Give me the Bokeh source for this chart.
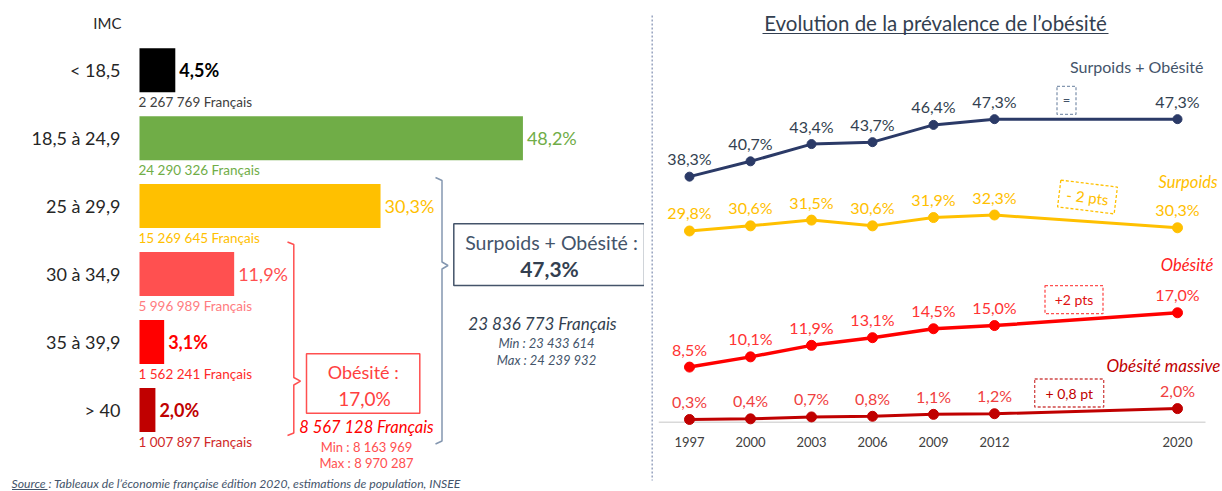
from bokeh.plotting import figure
from bokeh.layouts import row
from bokeh.models import Range1d, FactorRange, ColumnDataSource
from bokeh.core.properties import value
from bokeh.embed import file_html
from bokeh.resources import INLINE

# ---------------- data ----------------
imc_classes = ["< 18,5", "18,5 à 24,9", "25 à 29,9", "30 à 34,9", "35 à 39,9", "> 40"]
imc_pct = [4.5, 48.2, 30.3, 11.9, 3.1, 2.0]
imc_effectifs = ["2 267 769 Français", "24 290 326 Français", "15 269 645 Français",
                 "5 996 989 Français", "1 562 241 Français", "1 007 897 Français"]

surpoids_obesite_effectif = "23 836 773 Français"
surpoids_obesite_min = "Min : 23 433 614"
surpoids_obesite_max = "Max : 24 239 932"
obesite_effectif = "8 567 128 Français"
obesite_min = "Min : 8 163 969"
obesite_max = "Max : 8 970 287"

annees = ["1997", "2000", "2003", "2006", "2009", "2012", "2020"]
axe_annees = ["1997", "2000", "2003", "2006", "2009", "2012", " ", "  ", "2020"]  # 2 empty slots before 2020
surpoids_obesite = [38.3, 40.7, 43.4, 43.7, 46.4, 47.3, 47.3]
surpoids = [29.8, 30.6, 31.5, 30.6, 31.9, 32.3, 30.3]
obesite = [8.5, 10.1, 11.9, 13.1, 14.5, 15.0, 17.0]
obesite_massive = [0.3, 0.4, 0.7, 0.8, 1.1, 1.2, 2.0]

source_txt = "Source : Tableaux de l’économie française édition 2020, estimations de population, INSEE"
titre = "Evolution de la prévalence de l’obésité"


def fr(v):
    return f"{v:.1f}".replace(".", ",") + "%"


FONT = value("Lato")

# ---------------- styles ----------------
bar_colors = ["#000000", "#70AD47", "#FFC000", "#FF5050", "#FF0000", "#C00000"]
pct_colors = ["#000000", "#70AD47", "#FFC000", "#FF5050", "#FF0000", "#C00000"]
pct_styles = ["bold", "normal", "normal", "normal", "bold", "bold"]
eff_colors = ["#404040", "#70AD47", "#FFC000", "#FF7C80", "#FF2A2A", "#D02828"]
NAVY = "#44546A"
DNAVY = "#333F50"

W_L, W_R, H = 644, 578, 491

# ---------------- left figure: IMC bars ----------------
PX_PER_PCT = 7.955
BAR0 = 139.0
ROW0, ROW_STEP = 69.7, 67.95


def lx(px):
    return (px - BAR0) / PX_PER_PCT


def ly(py):
    return (py - ROW0) / ROW_STEP


left = figure(width=W_L, height=H, x_range=Range1d(lx(0), lx(W_L)),
              y_range=Range1d(ly(H), ly(0)), output_backend="svg",
              toolbar_location=None, x_axis_location=None, y_axis_location=None,
              min_border=0, outline_line_color=None,
              background_fill_color="white", border_fill_color="white")
left.grid.visible = False

idx = list(range(len(imc_classes)))
src = ColumnDataSource(dict(y=idx, cat=imc_classes, pct=imc_pct,
                            pct_lab=[fr(v) for v in imc_pct], eff=imc_effectifs,
                            bar_col=bar_colors, pct_col=pct_colors,
                            pct_sty=pct_styles, eff_col=eff_colors,
                            zero=[0] * len(idx), xlab=[lx(120)] * len(idx)))

left.hbar(y="y", left="zero", right="pct", height=44 / ROW_STEP,
          fill_color="bar_col", line_color=None, source=src)
left.text(x="xlab", y="y", text="cat", text_align="right", text_baseline="middle",
          text_font=FONT, text_font_size="18px", text_color="#262626", source=src)
left.text(x="pct", y="y", text="pct_lab", x_offset=4, text_align="left",
          text_baseline="middle", text_font=FONT, text_font_size="18px",
          text_color="pct_col", text_font_style="pct_sty", source=src)
left.text(x="zero", y="y", text="eff", y_offset=32, x_offset=-1, text_align="left",
          text_baseline="middle", text_font=FONT, text_font_size="13.5px",
          text_color="eff_col", source=src)
left.text(x=[lx(121)], y=[ly(22.3)], text=["IMC"], text_align="right",
          text_baseline="middle", text_font=FONT, text_font_size="15px",
          text_color="#262626")

# brackets
bx = [435, 441.5, 441.5, 447.5, 441.5, 441.5, 435]
by = [177, 180, 261.5, 265, 268.5, 440.5, 443.5]
left.line([lx(v) for v in bx], [ly(v) for v in by], line_color="#8497B0", line_width=1.5)
rbx = [287, 293.3, 293.3, 300, 293.3, 293.3, 287]
rby = [241.5, 244, 377, 380.7, 384.5, 432.5, 435]
left.line([lx(v) for v in rbx], [ly(v) for v in rby], line_color="#FF5050", line_width=1.5)

# Surpoids + Obésité box
so_total = sum(imc_pct[2:])
ob_total = sum(imc_pct[3:])
left.quad(left=[lx(453.3)], right=[lx(644)], top=[ly(223.3)], bottom=[ly(285)],
          fill_color="white", line_color=NAVY, line_width=1.5)
left.text(x=[lx(551)], y=[ly(241.5)], text=["Surpoids + Obésité :"], text_align="center",
          text_baseline="middle", text_font=FONT, text_font_size="19.5px", text_color=NAVY)
left.text(x=[lx(549)], y=[ly(268)], text=[fr(so_total)], text_align="center",
          text_baseline="middle", text_font=FONT, text_font_size="21px",
          text_font_style="bold", text_color=DNAVY)
left.text(x=[lx(542)], y=[ly(323.3)], text=[surpoids_obesite_effectif], text_align="center",
          text_baseline="middle", text_font=FONT, text_font_size="17px",
          text_font_style="italic", text_color=DNAVY)
left.text(x=[lx(546), lx(546)], y=[ly(342.3), ly(359.3)],
          text=[surpoids_obesite_min, surpoids_obesite_max], text_align="center",
          text_baseline="middle", text_font=FONT, text_font_size="13px",
          text_font_style="italic", text_color=NAVY)

# Obésité box
left.quad(left=[lx(306)], right=[lx(419.3)], top=[ly(353.3)], bottom=[ly(412.7)],
          fill_color="white", line_color="#FF5050", line_width=1.5)
left.text(x=[lx(362.7)], y=[ly(371.7)], text=["Obésité :"], text_align="center",
          text_baseline="middle", text_font=FONT, text_font_size="18px", text_color="#FF4040")
left.text(x=[lx(364)], y=[ly(397.7)], text=[fr(ob_total)], text_align="center",
          text_baseline="middle", text_font=FONT, text_font_size="19px", text_color="#FF4040")
left.text(x=[lx(366)], y=[ly(426.7)], text=[obesite_effectif], text_align="center",
          text_baseline="middle", text_font=FONT, text_font_size="16.5px",
          text_font_style="italic", text_color="#FF0000")
left.text(x=[lx(366), lx(366)], y=[ly(446), ly(462.7)], text=[obesite_min, obesite_max],
          text_align="center", text_baseline="middle", text_font=FONT,
          text_font_size="13px", text_color="#FF5050")

# source
left.text(x=[lx(11)], y=[ly(483)], text=[source_txt], text_align="left",
          text_baseline="middle", text_font=FONT, text_font_size="12.2px",
          text_font_style="italic", text_color=NAVY)
left.line([lx(11.5), lx(47)], [ly(489), ly(489)], line_color=NAVY, line_width=1)

# ---------------- right figure: evolution ----------------
PAD = 0.2377
SLOT = W_R / (len(axe_annees) + 2 * PAD)
Y0_PX, PX_PER_PT = 420.9, 6.39


def rx(px):
    return -PAD + (px - W_L) / SLOT


def ry(py):
    return (Y0_PX - py) / PX_PER_PT


right = figure(width=W_R, height=H,
               x_range=FactorRange(factors=axe_annees, range_padding=PAD,
                                   range_padding_units="absolute", factor_padding=0),
               y_range=Range1d(ry(H), ry(0)), output_backend="svg",
               toolbar_location=None, x_axis_location=None, y_axis_location=None,
               min_border=0, outline_line_color=None,
               background_fill_color="white", border_fill_color="white")
right.grid.visible = False

# separator & axis
right.line([rx(651.7), rx(651.7)], [ry(15), ry(480)], line_color="#97A3BF",
           line_width=1.5, line_dash="2 2")
right.line([rx(658.3), rx(1205)], [ry(421.7), ry(421.7)], line_color="#D9D9D9", line_width=1.5)
right.text(x=annees, y=[ry(441.7)] * len(annees), text=annees, text_align="center",
           text_baseline="middle", text_font=FONT, text_font_size="13px", text_color="#404040")

# title
right.text(x=[rx(935)], y=[ry(22)], text=[titre], text_align="center", text_baseline="middle",
           text_font=FONT, text_font_size="20.5px", text_color=DNAVY)
right.line([rx(762), rx(1108)], [ry(33), ry(33)], line_color=DNAVY, line_width=1.2)

series = [
    (surpoids_obesite, "#2B3A67", DNAVY, 3, 9),
    (surpoids, "#FFC000", "#FFC000", 3, 10),
    (obesite, "#FF0000", "#FF3333", 3.5, 10),
    (obesite_massive, "#C00000", "#F04040", 3, 10),
]
for vals, col, lab_col, lw, ms in series:
    right.line(annees, vals, line_color=col, line_width=lw)
    right.scatter(annees, vals, size=ms, fill_color=col, line_color=col)
    right.text(annees, vals, text=[fr(v) for v in vals], y_offset=-18, text_align="center",
               text_baseline="middle", text_font=FONT, text_font_size="16px",
               text_color=lab_col)

# series names
right.text(x=[rx(1203)], y=[ry(66)], text=["Surpoids + Obésité"], text_align="right",
           text_baseline="middle", text_font=FONT, text_font_size="16px", text_color=NAVY)
right.text(x=[rx(1217)], y=[ry(181.7)], text=["Surpoids"], text_align="right",
           text_baseline="middle", text_font=FONT, text_font_size="16.5px",
           text_font_style="italic", text_color="#FFC000")
right.text(x=[rx(1213)], y=[ry(264)], text=["Obésité"], text_align="right",
           text_baseline="middle", text_font=FONT, text_font_size="16.5px",
           text_font_style="italic", text_color="#FF2020")
right.text(x=[rx(1220)], y=[ry(365)], text=["Obésité massive"], text_align="right",
           text_baseline="middle", text_font=FONT, text_font_size="17px",
           text_font_style="italic", text_color="#C00000")

# dashed evolution boxes
boxes = [
    (1066, 99.8, 19, 28, 0, "=", "#8497B0", NAVY, "13px"),
    (1087, 196.5, 57, 27, -7, "- 2 pts", "#FFC000", "#FFC000", "15px"),
    (1073.5, 299.2, 58, 28, 0, "+2 pts", "#FF5050", "#E01010", "14px"),
    (1068.7, 392.5, 69, 28, 0, "+ 0,8 pt", "#D04848", "#C00000", "14px"),
]
for cx, cy, w, h, ang, txt, bcol, tcol, fs in boxes:
    right.rect(x=[rx(cx)], y=[ry(cy)], width=w, height=h, width_units="screen",
               height_units="screen", angle=ang, angle_units="deg", fill_color=None,
               line_color=bcol, line_width=1.3, line_dash="3 2")
    right.text(x=[rx(cx)], y=[ry(cy)], text=[txt], angle=ang, angle_units="deg",
               text_align="center", text_baseline="middle", text_font=FONT,
               text_font_size=fs, text_color=tcol)

layout = row(left, right)
open("out.html", "w").write(file_html(layout, INLINE))
